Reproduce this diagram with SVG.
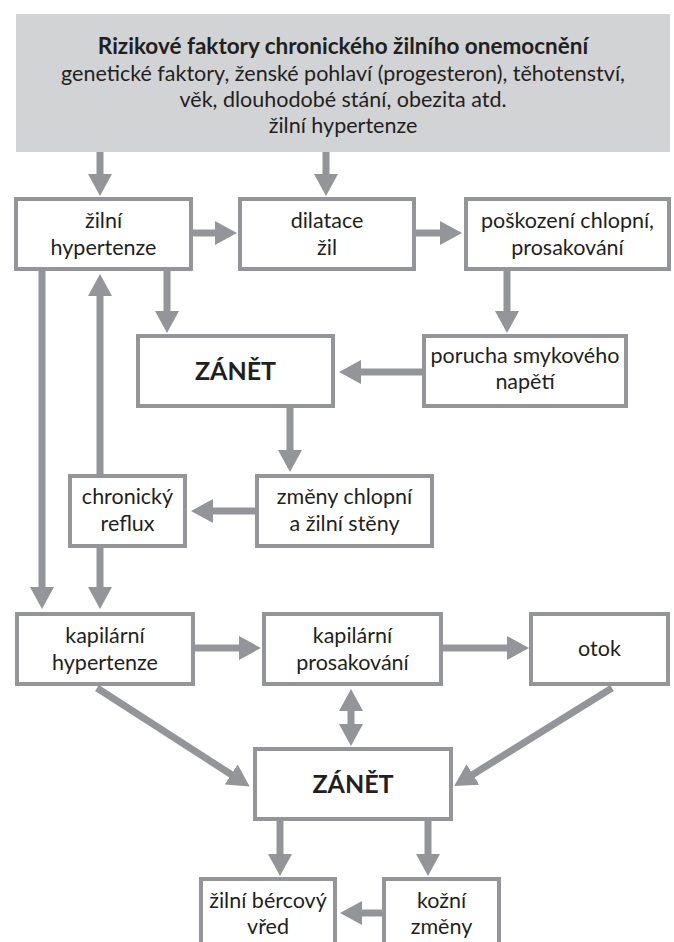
<svg xmlns="http://www.w3.org/2000/svg" width="674" height="942" viewBox="0 0 674 942">
<style>
.box{fill:#ffffff;stroke:#939598;stroke-width:4}
.t{font-family:Lato,"Open Sans","Liberation Sans",sans-serif;font-size:21.5px;fill:#231f20;text-anchor:middle}
.b{font-weight:bold;font-size:22.5px}
.z{font-family:Lato,"Open Sans","Liberation Sans",sans-serif;font-size:25px;font-weight:bold;fill:#231f20;text-anchor:middle}
.c line{stroke:#939598;stroke-width:7;marker-end:url(#ah)}
.c line.d{marker-start:url(#ahs)}
</style>
<defs>
<marker id="ah" markerUnits="userSpaceOnUse" viewBox="0 0 22 24" refX="1" refY="12" markerWidth="22" markerHeight="24" orient="auto"><path d="M0,0 L22,12 L0,24 z" fill="#939598"/></marker>
<marker id="ahs" markerUnits="userSpaceOnUse" viewBox="0 0 22 24" refX="1" refY="12" markerWidth="22" markerHeight="24" orient="auto-start-reverse"><path d="M0,0 L22,12 L0,24 z" fill="#939598"/></marker>
</defs>
<rect width="674" height="942" fill="#ffffff"/>
<g id="rizikove-faktory">
<rect x="16" y="14" width="654" height="138" fill="#d1d3d4"/>
<text class="t b" x="343" y="54">Rizikové faktory chronického žilního onemocnění</text>
<text class="t" x="343" y="81">genetické faktory, ženské pohlaví (progesteron), těhotenství,</text>
<text class="t" x="343" y="107">věk, dlouhodobé stání, obezita atd.</text>
<text class="t" x="343" y="133">žilní hypertenze</text>
</g>
<g class="c" id="connectors">
<line x1="100" y1="152" x2="100" y2="175"/>
<line x1="326" y1="152" x2="326" y2="175"/>
<line x1="191" y1="233" x2="216" y2="233"/>
<line x1="414" y1="233" x2="441" y2="233"/>
<line x1="167" y1="269" x2="167" y2="312"/>
<line x1="507" y1="269" x2="507" y2="312"/>
<line x1="424" y1="372" x2="360" y2="372"/>
<line x1="290" y1="406" x2="290" y2="451"/>
<line x1="257" y1="511" x2="212" y2="511"/>
<line x1="100" y1="476" x2="100" y2="295"/>
<line x1="42" y1="269" x2="42" y2="588"/>
<line x1="100" y1="546" x2="100" y2="588"/>
<line x1="193" y1="648" x2="240" y2="648"/>
<line x1="441" y1="648" x2="508" y2="648"/>
<line class="d" x1="351" y1="710" x2="351" y2="725"/>
<line x1="97" y1="688" x2="232" y2="775"/>
<line x1="612" y1="688" x2="472" y2="775"/>
<line x1="280" y1="819" x2="280" y2="855"/>
<line x1="428" y1="819" x2="428" y2="855"/>
<line x1="384" y1="913" x2="361" y2="913"/>
</g>
<g id="zilni-hypertenze">
<rect class="box" x="16" y="199" width="175" height="70"/>
<text class="t" x="103.5" y="228">žilní</text>
<text class="t" x="103.5" y="255">hypertenze</text>
</g>
<g id="dilatace-zil">
<rect class="box" x="240" y="199" width="174" height="70"/>
<text class="t" x="327" y="228">dilatace</text>
<text class="t" x="327" y="255">žil</text>
</g>
<g id="poskozeni-chlopni">
<rect class="box" x="466" y="199" width="203" height="70"/>
<text class="t" x="567.5" y="228">poškození chlopní,</text>
<text class="t" x="567.5" y="255">prosakování</text>
</g>
<g id="zanet-1">
<rect class="box" x="138" y="336" width="195" height="70"/>
<text class="z" x="235.5" y="380">ZÁNĚT</text>
</g>
<g id="porucha-smykoveho-napeti">
<rect class="box" x="424" y="336" width="202" height="70"/>
<text class="t" x="525" y="363">porucha smykového</text>
<text class="t" x="525" y="389">napětí</text>
</g>
<g id="chronicky-reflux">
<rect class="box" x="70" y="476" width="115" height="70"/>
<text class="t" x="127.5" y="504">chronický</text>
<text class="t" x="127.5" y="531">reflux</text>
</g>
<g id="zmeny-chlopni">
<rect class="box" x="257" y="476" width="175" height="70"/>
<text class="t" x="344.5" y="504">změny chlopní</text>
<text class="t" x="344.5" y="531">a žilní stěny</text>
</g>
<g id="kapilarni-hypertenze">
<rect class="box" x="17" y="614" width="176" height="70"/>
<text class="t" x="105" y="643">kapilární</text>
<text class="t" x="105" y="670">hypertenze</text>
</g>
<g id="kapilarni-prosakovani">
<rect class="box" x="264" y="614" width="177" height="70"/>
<text class="t" x="352.5" y="643">kapilární</text>
<text class="t" x="352.5" y="670">prosakování</text>
</g>
<g id="otok">
<rect class="box" x="531" y="614" width="137" height="70"/>
<text class="t" x="599.5" y="656">otok</text>
</g>
<g id="zanet-2">
<rect class="box" x="255" y="749" width="196" height="70"/>
<text class="z" x="353" y="793">ZÁNĚT</text>
</g>
<g id="zilni-bercovy-vred">
<rect class="box" x="201" y="879" width="134" height="72"/>
<text class="t" x="268" y="908">žilní bércový</text>
<text class="t" x="268" y="934">vřed</text>
</g>
<g id="kozni-zmeny">
<rect class="box" x="384" y="879" width="115" height="72"/>
<text class="t" x="441.5" y="908">kožní</text>
<text class="t" x="441.5" y="934">změny</text>
</g>
</svg>
